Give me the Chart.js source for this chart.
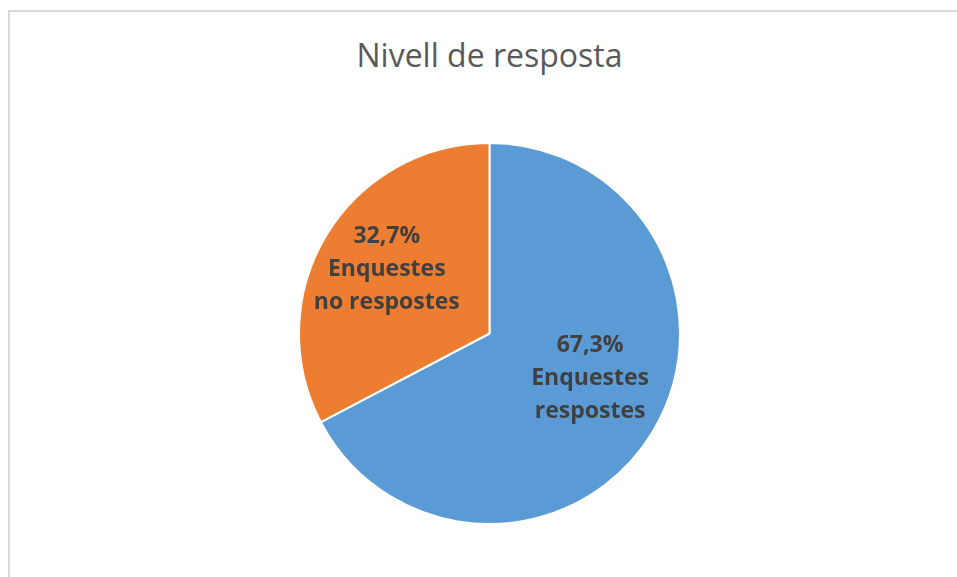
<!DOCTYPE html>
<html>
<head>
<meta charset="utf-8">
<script src="https://cdn.jsdelivr.net/npm/chart.js@4/dist/chart.umd.min.js"></script>
<style>
  html, body { margin: 0; padding: 0; background: #fff; overflow: hidden; }
  .frame {
    position: absolute; left: 8px; top: 10px; width: 1000px; height: 600px;
    border-left: 2px solid #d9d9d9; border-top: 2px solid #d9d9d9;
  }
  .title {
    position: absolute; left: 0; width: 979px; top: 33px; text-align: center;
    font-family: "Open Sans", sans-serif; font-size: 32px; line-height: 44px; color: #595959;
  }
  .wrap { position: absolute; left: 0; top: 0; width: 957px; height: 577px; }
</style>
</head>
<body>
<div class="frame"></div>
<div class="title">Nivell de resposta</div>
<div class="wrap"><canvas id="pieChart"></canvas></div>
<script>
// Chart data
var categories = [['Enquestes', 'respostes'], ['Enquestes', 'no respostes']];
var shares = [67.3, 32.7];
var colors = ['#5b9bd5', '#ed7d31'];

// label placement along each slice's mid angle (fraction of radius) plus nudge
var labelRadius = [0.58, 0.63];
var labelNudge = [[6, -12], [0, -2]];

var sliceLabels = {
    id: 'sliceLabels',
    afterDatasetsDraw: function(chart) {
        var ctx = chart.ctx;
        var arcs = chart.getDatasetMeta(0).data;
        ctx.save();
        ctx.font = 'bold 23px "Open Sans", sans-serif';
        ctx.fillStyle = '#404040';
        ctx.textAlign = 'center';
        ctx.textBaseline = 'middle';
        arcs.forEach(function(arc, i) {
            var mid = (arc.startAngle + arc.endAngle) / 2;
            var r = arc.outerRadius * labelRadius[i];
            var cx = arc.x + Math.cos(mid) * r + labelNudge[i][0];
            var cy = arc.y + Math.sin(mid) * r + labelNudge[i][1];
            var lines = [shares[i].toFixed(1).replace('.', ',') + '%'].concat(categories[i]);
            var lh = 33;
            lines.forEach(function(line, k) {
                ctx.fillText(line, cx, cy + (k - (lines.length - 1) / 2) * lh);
            });
        });
        ctx.restore();
    }
};

document.addEventListener('DOMContentLoaded', function() {
    var ctx = document.getElementById('pieChart').getContext('2d');
    new Chart(ctx, {
        type: 'pie',
        data: {
            labels: categories.map(function(c) { return c.join(' '); }),
            datasets: [{
                data: shares,
                backgroundColor: colors,
                borderColor: '#ffffff',
                borderWidth: 2
            }]
        },
        options: {
            responsive: true,
            maintainAspectRatio: false,
            animation: false,
            layout: { padding: { top: 142, bottom: 52, left: 100, right: 78 } },
            plugins: {
                legend: { display: false },
                tooltip: { enabled: false }
            }
        },
        plugins: [sliceLabels]
    });
});
</script>
</body>
</html>
